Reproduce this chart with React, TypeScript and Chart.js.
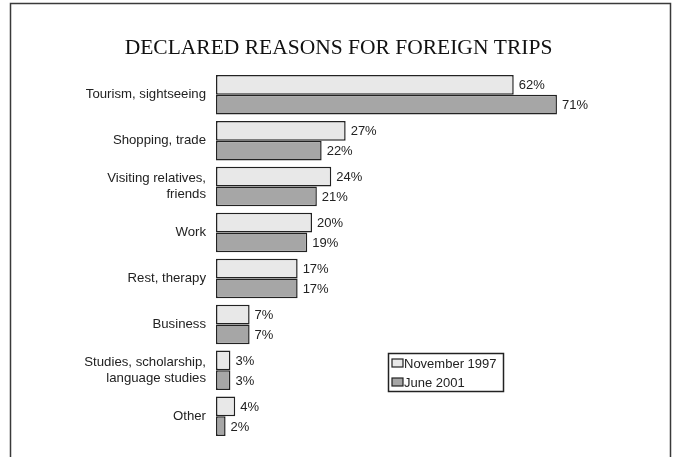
import React, { useEffect, useRef } from "react";
import { Chart, registerables } from "chart.js";

Chart.register(...registerables);

const categories: (string | string[])[] = [
  "Tourism, sightseeing",
  "Shopping, trade",
  ["Visiting relatives,", "friends"],
  "Work",
  "Rest, therapy",
  "Business",
  ["Studies, scholarship,", "language studies"],
  "Other",
];
const nov1997 = [62, 27, 24, 20, 17, 7, 3, 4];
const jun2001 = [71, 22, 21, 19, 17, 7, 3, 2];
const seriesNames = ["November 1997", "June 2001"];
const seriesColors = ["#e8e8e8", "#a6a6a6"];
const titleText = "DECLARED REASONS FOR FOREIGN TRIPS";

const SANS = "'Liberation Sans', Arial, sans-serif";
const SERIF = "'Liberation Serif', 'Times New Roman', serif";

const framePlugin = {
  id: "frame",
  beforeDraw(chart: any) {
    const ctx = chart.ctx;
    ctx.save();
    ctx.fillStyle = "#ffffff";
    ctx.fillRect(0, 0, chart.width, chart.height);
    ctx.strokeStyle = "#3a3a3a";
    ctx.lineWidth = 1.5;
    ctx.beginPath();
    ctx.moveTo(10.5, chart.height + 5);
    ctx.lineTo(10.5, 3.5);
    ctx.lineTo(670.5, 3.5);
    ctx.lineTo(670.5, chart.height + 5);
    ctx.stroke();
    ctx.restore();
  },
};

const valueLabelPlugin = {
  id: "valueLabels",
  afterDatasetsDraw(chart: any) {
    const ctx = chart.ctx;
    ctx.save();
    ctx.font = `13px ${SANS}`;
    ctx.fillStyle = "#222222";
    ctx.textAlign = "left";
    ctx.textBaseline = "middle";
    chart.data.datasets.forEach((ds: any, di: number) => {
      const meta = chart.getDatasetMeta(di);
      meta.data.forEach((el: any, i: number) => {
        ctx.fillText(ds.data[i] + "%", el.x + 5, el.y + 1);
      });
    });
    ctx.restore();
  },
};

const legendBoxPlugin = {
  id: "legendBox",
  afterDraw(chart: any) {
    const ctx = chart.ctx;
    const x0 = 388;
    const y0 = 353;
    const w = 115;
    const h = 38;
    ctx.save();
    ctx.fillStyle = "#ffffff";
    ctx.fillRect(x0, y0, w, h);
    ctx.strokeStyle = "#222222";
    ctx.lineWidth = 1.5;
    ctx.strokeRect(x0 + 0.5, y0 + 0.5, w, h);
    ctx.font = `13px ${SANS}`;
    ctx.textAlign = "left";
    ctx.textBaseline = "middle";
    chart.data.datasets.forEach((ds: any, i: number) => {
      const cy = y0 + 10 + i * 19;
      ctx.fillStyle = ds.backgroundColor;
      ctx.fillRect(x0 + 4, cy - 4, 11, 8);
      ctx.strokeStyle = "#222222";
      ctx.lineWidth = 1.2;
      ctx.strokeRect(x0 + 4, cy - 4, 11, 8);
      ctx.fillStyle = "#222222";
      ctx.fillText(ds.label, x0 + 16, cy + 1);
    });
    ctx.restore();
  },
};

export default function App() {
  const ref = useRef<HTMLCanvasElement | null>(null);
  useEffect(() => {
    if (!ref.current) return;
    const chart = new Chart(ref.current, {
      type: "bar",
      data: {
        labels: categories,
        datasets: [
          {
            label: seriesNames[0],
            data: nov1997,
            backgroundColor: seriesColors[0],
            borderColor: "#222222",
            borderWidth: 1.5,
            borderSkipped: false,
            barPercentage: 1,
            categoryPercentage: 0.86,
          },
          {
            label: seriesNames[1],
            data: jun2001,
            backgroundColor: seriesColors[1],
            borderColor: "#222222",
            borderWidth: 1.5,
            borderSkipped: false,
            barPercentage: 1,
            categoryPercentage: 0.86,
          },
        ],
      },
      options: {
        indexAxis: "y",
        responsive: false,
        animation: false,
        layout: { padding: { top: 35, bottom: 17, left: 0, right: 0 } },
        plugins: {
          legend: { display: false },
          tooltip: { enabled: false },
          title: {
            display: true,
            text: titleText,
            color: "#111111",
            font: { family: SERIF, size: 21.5, weight: "normal", lineHeight: 1.2 },
            padding: { top: 0, bottom: 11 },
          },
        },
        scales: {
          x: {
            display: false,
            min: 0,
            max: 96,
          },
          y: {
            border: { display: false },
            grid: { display: false, drawTicks: false, tickLength: 0 },
            ticks: {
              color: "#222222",
              font: { family: SANS, size: 13.2, lineHeight: 1.18 },
              padding: 10,
              autoSkip: false,
            },
            afterFit(scale: any) {
              scale.width = 216;
            },
          },
        },
      },
      plugins: [framePlugin, valueLabelPlugin, legendBoxPlugin],
    } as any);
    return () => chart.destroy();
  }, []);
  return (
    <div style={{ position: "fixed", left: 0, top: 0, width: 677, height: 457, background: "#fff" }}>
      <canvas ref={ref} width={677} height={457} style={{ display: "block" }} />
    </div>
  );
}
